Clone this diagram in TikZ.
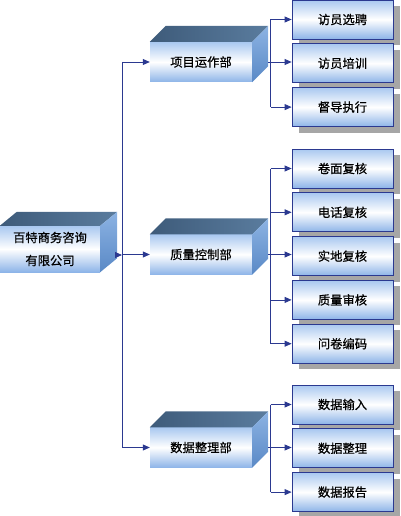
\documentclass[tikz,border=0pt]{standalone}
\usepackage{fontspec}
\newfontfamily\cjk[FakeBold=0.6]{Noto Sans CJK SC}
\usetikzlibrary{positioning,arrows.meta,shadows,calc}
\definecolor{navy}{HTML}{2B3990}
\definecolor{faceblue}{HTML}{A9C8F0}
\definecolor{facelow}{HTML}{8DB4E8}
\definecolor{topdark}{HTML}{3E5B7A}
\definecolor{toplight}{HTML}{5A7C9E}
\definecolor{sidetop}{HTML}{8CB3E3}
\definecolor{sidelow}{HTML}{5A89C6}

\begin{document}
\begin{tikzpicture}[x=1pt,y=-1pt,
  every node/.style={font=\cjk\fontsize{12.3}{23}\selectfont},
  dept/.style={rectangle,minimum width=102pt,minimum height=40pt,inner sep=0pt,align=center,
    shading=axis,top color=faceblue,bottom color=facelow,middle color=white},
  item/.style={rectangle,draw=navy,line width=0.8pt,minimum width=101pt,minimum height=39pt,inner sep=0pt,
    shading=axis,top color=faceblue,bottom color=facelow,middle color=white,
    drop shadow={shadow xshift=7pt,shadow yshift=-6pt,fill=gray!70,opacity=1}},
  topface/.style={left color=topdark,right color=toplight},
  sideface/.style={top color=sidetop,bottom color=sidelow},
  line/.style={draw=navy,line width=0.8pt},
  arr/.style={line,-{Triangle[length=7pt,width=6pt]}}
]
\useasboundingbox (0,0) rectangle (400,516);

% company and departments
\node[dept,minimum width=100pt,minimum height=46pt] (root) at (50,249) {百特商务咨询\\有限公司};
\node[dept] (d1) at (201,62) {项目运作部};
\node[dept] (d2) at (201,254.5) {质量控制部};
\node[dept] (d3) at (201,447.5) {数据整理部};

% 3d faces
\foreach \n/\dx/\dy in {root/17/14, d1/16/16, d2/16/16, d3/16/16} {
  \shade[topface] (\n.north west) -- ++(\dx,-\dy) -- ([shift={(\dx,-\dy)}]\n.north east) -- (\n.north east) -- cycle;
  \shade[sideface] (\n.north east) -- ++(\dx,-\dy) -- ([shift={(\dx,-\dy)}]\n.south east) -- (\n.south east) -- cycle;
}

% tasks
\node[item] (a1) at (342.5,19.5) {访员选聘};
\node[item, below=4pt of a1] (a2) {访员培训};
\node[item, below=4pt of a2] (a3) {督导执行};

\node[item] (b1) at (342.5,168.5) {卷面复核};
\node[item, below=4pt of b1] (b2) {电话复核};
\node[item, below=4pt of b2] (b3) {实地复核};
\node[item, below=4pt of b3] (b4) {质量审核};
\node[item, below=4pt of b4] (b5) {问卷编码};

\node[item] (c1) at (342.5,404.5) {数据输入};
\node[item, below=4pt of c1] (c2) {数据整理};
\node[item, below=4pt of c2] (c3) {数据报告};

% trunk
\coordinate (t1) at (122,62);
\coordinate (t3) at (122,447.5);
\coordinate (rootout) at (117,255);
\draw[line] (t1) -- (t3);
\draw[arr] (rootout) -- (rootout -| t1);
\foreach \d in {d1,d2,d3}
  \draw[arr] (t1 |- \d.west) -- (\d.west);

% branches
\foreach \d/\f/\m/\l in {d1/a1/a2/a3, d2/b1/b3/b5, d3/c1/c2/c3} {
  \draw[line] ([xshift=-21pt]\f.west) -- ([xshift=-21pt]\l.west);
  \draw[arr] ([xshift=16pt]\d.east) -- (\d.east -| \m.west);
}
\foreach \c in {a1,a3,b1,b2,b4,b5,c1,c3}
  \draw[arr] ([xshift=-21pt]\c.west) -- (\c.west);
\end{tikzpicture}
\end{document}
